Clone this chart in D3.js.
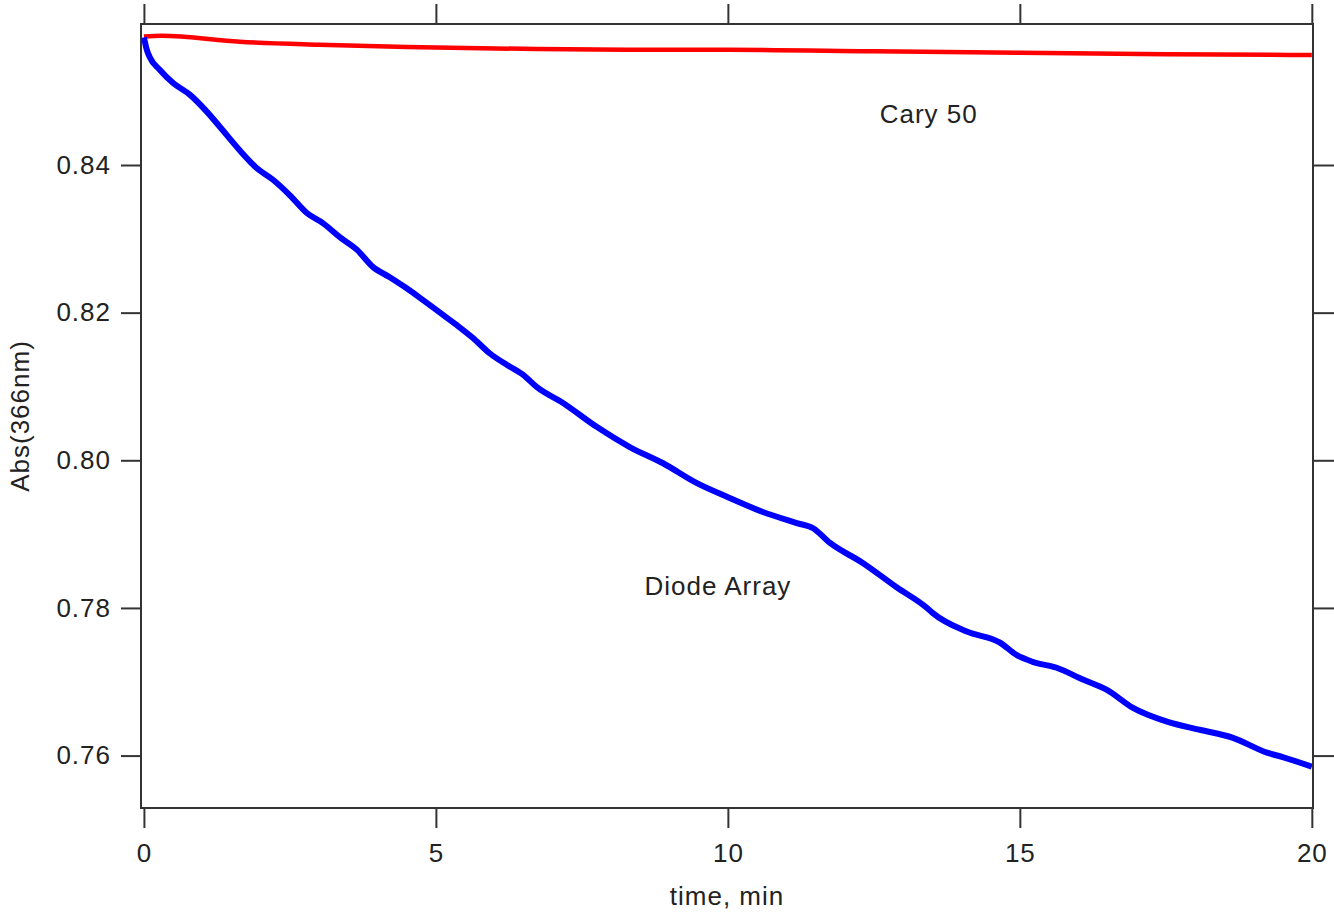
<!DOCTYPE html>
<html><head><meta charset="utf-8">
<script src="https://cdn.jsdelivr.net/npm/d3@7"></script>
<style>
body{margin:0;background:#fff;}
svg{display:block;}
.tk text{font-family:"Liberation Sans",Arial,sans-serif;font-size:26px;fill:#222;letter-spacing:1px;}
.lbl{font-family:"Liberation Sans",Arial,sans-serif;font-size:26px;fill:#222;letter-spacing:1px;}
</style>
</head><body>
<svg id="c" width="1334" height="916"></svg>
<script>
// Data
const xTicks = [0, 5, 10, 15, 20];
const yTicks = [0.76, 0.78, 0.80, 0.82, 0.84];
const yTickLabels = ["0.76", "0.78", "0.80", "0.82", "0.84"];

const diodeTime = [0,0.05,0.10,0.27,0.50,0.79,1.08,1.35,1.64,1.93,2.21,2.50,2.79,3.07,3.36,3.65,3.92,4.21,4.50,4.78,5.07,5.36,5.63,5.92,6.22,6.49,6.73,7.17,7.76,8.32,8.89,9.47,10.03,10.60,11.18,11.46,11.75,12.31,12.89,13.41,13.51,14.09,14.66,14.95,15.22,15.63,16.08,16.49,16.93,17.52,18.08,18.65,19.23,19.50,20.0];
const diodeAbs = [0.8573,0.8556,0.8546,0.8529,0.8511,0.8495,0.8472,0.8447,0.8420,0.8396,0.8380,0.8359,0.8335,0.8321,0.8302,0.8285,0.8262,0.8248,0.8233,0.8217,0.8200,0.8183,0.8166,0.8145,0.8129,0.8116,0.8099,0.8078,0.8045,0.8018,0.7996,0.7969,0.7949,0.7930,0.7915,0.7908,0.7888,0.7861,0.7828,0.7800,0.7793,0.7768,0.7753,0.7736,0.7727,0.7719,0.7703,0.7689,0.7665,0.7646,0.7635,0.7624,0.7604,0.7598,0.7585];

const caryTime = [0,0.3,1.64,3.0,4.5,6.73,8.5,10,12.5,15,17.5,20];
const caryAbs  = [0.8574,0.8575,0.8567,0.8563,0.8560,0.8557,0.8556,0.8556,0.8554,0.8552,0.8550,0.8549];

const seriesNames = ["Cary 50", "Diode Array"];
const seriesColors = ["#ff0000", "#0000ff"];

const svg = d3.select("#c");
const L = 141, R = 1313, T = 24, B = 808;
const x = d3.scaleLinear().domain([-0.05, 20.02]).range([L, R]);
const y = d3.scaleLinear().domain([0.7529, 0.8591]).range([B, T]);

svg.append("clipPath").attr("id","clip").append("rect")
  .attr("x", L).attr("y", T).attr("width", R-L).attr("height", B-T);

const line = d3.line().x(d => x(d[0])).y(d => y(d[1])).curve(d3.curveMonotoneX);
const cary = caryTime.map((t,i)=>[t, caryAbs[i]]);
const diode = diodeTime.map((t,i)=>[t, diodeAbs[i]]);

const g = svg.append("g").attr("clip-path","url(#clip)");
g.append("path").datum(cary).attr("d", line).attr("fill","none")
  .attr("stroke", seriesColors[0]).attr("stroke-width", 4.5).attr("stroke-linejoin","round");
g.append("path").datum(diode).attr("d", line).attr("fill","none")
  .attr("stroke", seriesColors[1]).attr("stroke-width", 6).attr("stroke-linejoin","round");

// frame
svg.append("rect").attr("x", L).attr("y", T).attr("width", R-L).attr("height", B-T)
  .attr("fill","none").attr("stroke","#333").attr("stroke-width", 2);

function style(sel){
  sel.select(".domain").remove();
  sel.selectAll(".tick line").attr("stroke","#333").attr("stroke-width",2);
}
const xb = svg.append("g").attr("class","tk").attr("transform",`translate(0,${B})`)
  .call(d3.axisBottom(x).tickValues(xTicks).tickSize(20).tickPadding(16).tickFormat(d3.format("d")));
style(xb);
const xt = svg.append("g").attr("class","tk").attr("transform",`translate(0,${T})`)
  .call(d3.axisTop(x).tickValues(xTicks).tickSize(20).tickFormat(""));
style(xt);
const yl = svg.append("g").attr("class","tk").attr("transform",`translate(${L},0)`)
  .call(d3.axisLeft(y).tickValues(yTicks).tickSize(20).tickPadding(10).tickFormat((d,i)=>yTickLabels[i]));
style(yl);
const yr = svg.append("g").attr("class","tk").attr("transform",`translate(${R},0)`)
  .call(d3.axisRight(y).tickValues(yTicks).tickSize(21).tickFormat(""));
style(yr);
svg.selectAll(".tk text").attr("fill","#222").attr("font-size",26).attr("font-family","Liberation Sans, Arial, sans-serif");

// axis titles
svg.append("text").attr("class","lbl").attr("x", (L+R)/2).attr("y", 905)
  .attr("text-anchor","middle").text("time, min");
svg.append("text").attr("class","lbl").attr("transform","translate(29,416) rotate(-90)")
  .attr("text-anchor","middle").text("Abs(366nm)");

// series labels
svg.append("text").attr("class","lbl").attr("x", x(13.44)).attr("y", y(0.8457))
  .attr("text-anchor","middle").text(seriesNames[0]);
svg.append("text").attr("class","lbl").attr("x", x(9.83)).attr("y", y(0.7818))
  .attr("text-anchor","middle").text(seriesNames[1]);
</script>
</body></html>
